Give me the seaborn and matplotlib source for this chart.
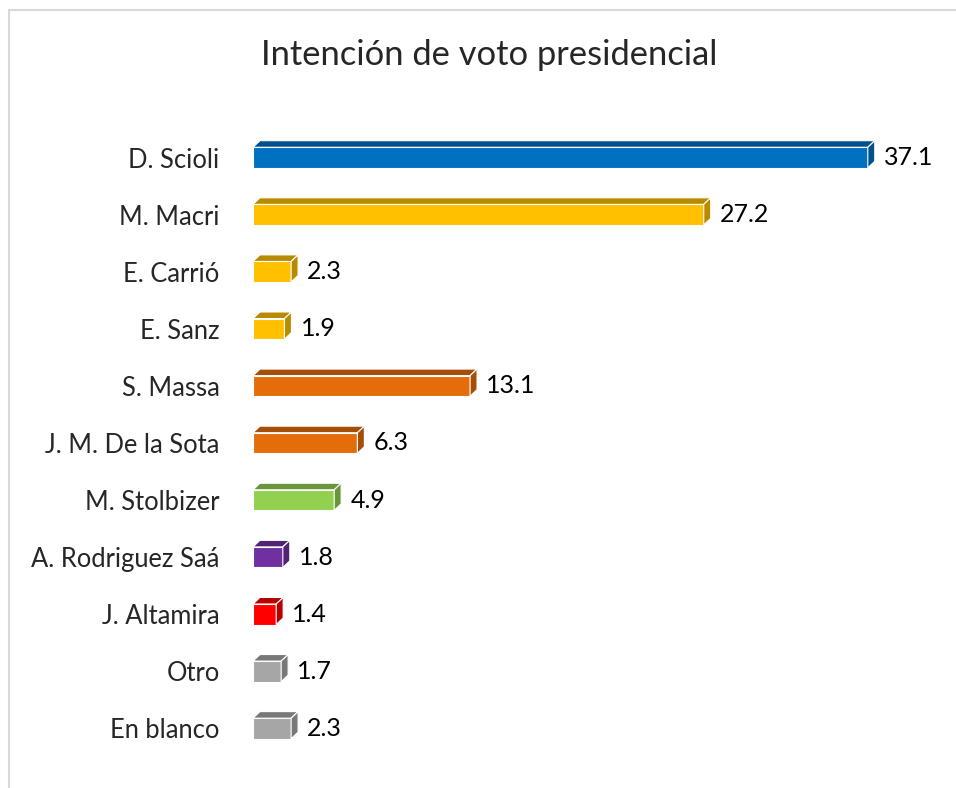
import matplotlib
matplotlib.use("Agg")
import matplotlib.pyplot as plt
import matplotlib.colors as mcolors
from matplotlib.patches import Polygon, Rectangle
import pandas as pd
import seaborn as sns

# Poll data (percent)
candidates = ["D. Scioli", "M. Macri", "E. Carrió", "E. Sanz", "S. Massa",
              "J. M. De la Sota", "M. Stolbizer", "A. Rodriguez Saá",
              "J. Altamira", "Otro", "En blanco"]
votes = [37.1, 27.2, 2.3, 1.9, 13.1, 6.3, 4.9, 1.8, 1.4, 1.7, 2.3]
bar_colors = ["#0070C0", "#FFC000", "#FFC000", "#FFC000", "#E46C0A",
              "#E46C0A", "#92D050", "#7030A0", "#FF0000", "#A6A6A6", "#A6A6A6"]
title = "Intención de voto presidencial"

df = pd.DataFrame({"candidato": candidates, "voto": votes})

sns.set_style("white")
plt.rcParams["font.family"] = ["Lato", "DejaVu Sans"]

fig = plt.figure(figsize=(9.56, 7.88), dpi=100)
ax = fig.add_axes([253 / 956, 1 - 757 / 788, 696 / 956, 628 / 788])

sns.barplot(data=df, x="voto", y="candidato", hue="candidato",
            palette=bar_colors, legend=False, width=0.36, ax=ax,
            edgecolor="white", linewidth=0.8, dodge=False, saturation=1)
ax.set_xlim(0, 42)
ax.set_ylim(10.5, -0.5)

# fake 3D depth on every bar
dx, dy = 0.42, 0.115
for patch, col in zip(ax.patches, bar_colors):
    x0, y0 = patch.get_x(), patch.get_y()
    w, h = patch.get_width(), patch.get_height()
    dark = [c * 0.72 for c in mcolors.to_rgb(col)]
    top = Polygon([(x0, y0), (x0 + dx, y0 - dy), (x0 + w + dx, y0 - dy), (x0 + w, y0)],
                  closed=True, facecolor=dark, edgecolor="white", linewidth=0.8)
    side = Polygon([(x0 + w, y0), (x0 + w + dx, y0 - dy), (x0 + w + dx, y0 + h - dy), (x0 + w, y0 + h)],
                   closed=True, facecolor=dark, edgecolor="white", linewidth=0.8)
    ax.add_patch(top)
    ax.add_patch(side)
    ax.text(x0 + w + dx + 0.55, y0 + h / 2, f"{w:.1f}", va="center", ha="left",
            fontsize=18, color="black")

ax.set_xlabel("")
ax.set_ylabel("")
ax.set_xticks([])
ax.tick_params(axis="y", length=0, pad=24, labelsize=18.4)
sns.despine(ax=ax, left=True, bottom=True)

fig.text(489 / 956, 1 - 55 / 788, title, ha="center", va="center", fontsize=24.8)

# chart area border (only top/left visible in the reference crop)
fig.patches.append(Rectangle((8.5 / 956, -0.1), 1.2, 1 - 9.5 / 788 + 0.1,
                             transform=fig.transFigure, fill=False,
                             edgecolor="#D9D9D9", linewidth=1.5))

fig.savefig("out.png", dpi=100)
